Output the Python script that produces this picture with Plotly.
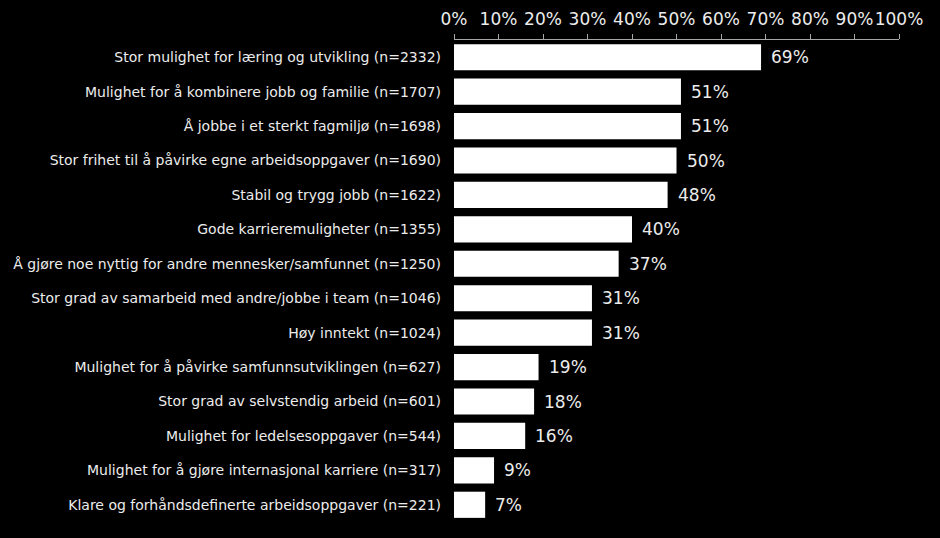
import plotly.graph_objects as go

categories = [
    "Stor mulighet for læring og utvikling (n=2332)",
    "Mulighet for å kombinere jobb og familie (n=1707)",
    "Å jobbe i et sterkt fagmiljø (n=1698)",
    "Stor frihet til å påvirke egne arbeidsoppgaver (n=1690)",
    "Stabil og trygg jobb (n=1622)",
    "Gode karrieremuligheter (n=1355)",
    "Å gjøre noe nyttig for andre mennesker/samfunnet (n=1250)",
    "Stor grad av samarbeid med andre/jobbe i team (n=1046)",
    "Høy inntekt (n=1024)",
    "Mulighet for å påvirke samfunnsutviklingen (n=627)",
    "Stor grad av selvstendig arbeid (n=601)",
    "Mulighet for ledelsesoppgaver (n=544)",
    "Mulighet for å gjøre internasjonal karriere (n=317)",
    "Klare og forhåndsdefinerte arbeidsoppgaver (n=221)",
]
values = [69, 51, 51, 50, 48, 40, 37, 31, 31, 19, 18, 16, 9, 7]
tick_vals = [0, 10, 20, 30, 40, 50, 60, 70, 80, 90, 100]
tick_text = [f"{v}%" for v in tick_vals]

font_family = "DejaVu Sans, Verdana, sans-serif"
txt_color = "#ececec"

fig = go.Figure(
    go.Bar(
        x=values,
        y=categories,
        orientation="h",
        marker=dict(color="#ffffff", line=dict(width=0)),
        width=0.76,
        hoverinfo="skip",
    )
)

for c, v in zip(categories, values):
    fig.add_annotation(
        x=v, y=c, text=f"{v}%", showarrow=False,
        xanchor="left", yanchor="middle", xshift=8,
        font=dict(family=font_family, size=17, color=txt_color),
    )

fig.update_layout(
    width=940, height=538,
    margin=dict(l=454, r=41, t=40, b=16),
    paper_bgcolor="#000000",
    plot_bgcolor="#000000",
    showlegend=False,
    bargap=0.24,
    font=dict(family=font_family, color=txt_color),
)
fig.update_xaxes(
    range=[0, 100],
    side="top",
    tickvals=tick_vals,
    ticktext=tick_text,
    tickangle=0,
    automargin=False,
    tickfont=dict(size=17, color=txt_color),
    showgrid=False,
    zeroline=False,
    showline=True,
    linecolor="#a6a6a6",
    linewidth=1,
    ticks="outside",
    ticklen=5,
    tickcolor="#a6a6a6",
    ticklabelstandoff=2,
)
fig.update_yaxes(
    autorange="reversed",
    automargin=False,
    tickfont=dict(size=14, color=txt_color),
    showgrid=False,
    zeroline=False,
    showline=False,
    ticks="",
    ticklabelstandoff=12,
)

fig.write_html("out.html")
